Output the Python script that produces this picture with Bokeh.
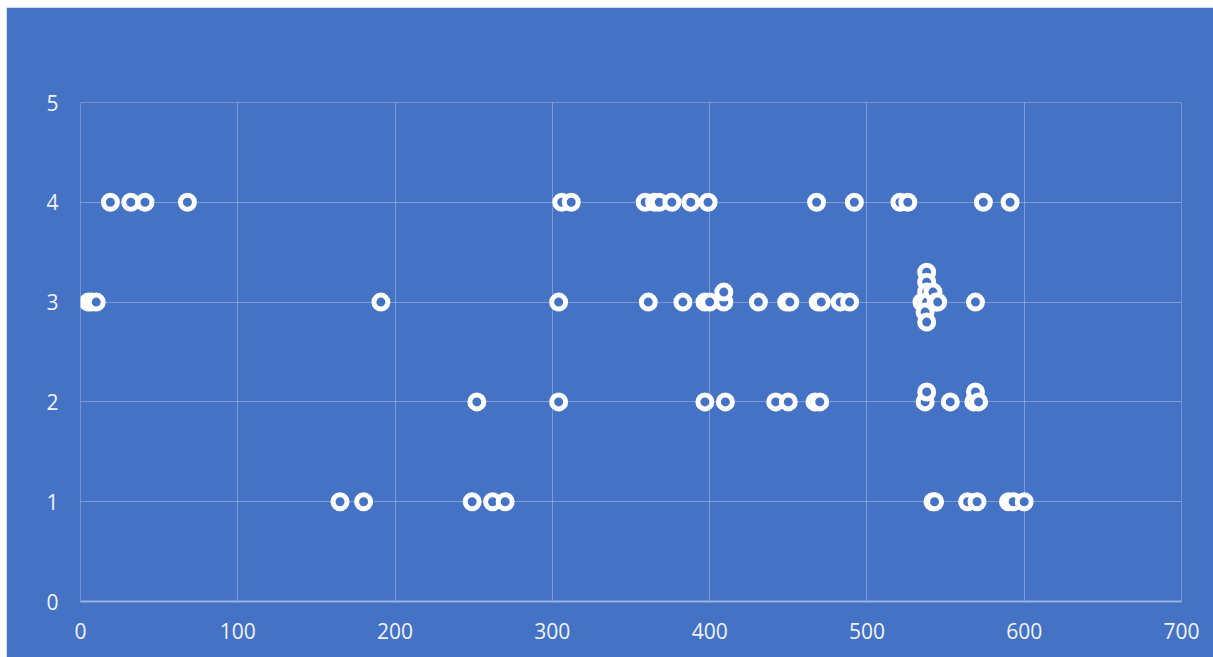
from bokeh.plotting import figure
from bokeh.models import Range1d, FixedTicker, ColumnDataSource, Spacer
from bokeh.layouts import column, row
from bokeh.embed import file_html
from bokeh.resources import INLINE

# Data
x_values = [
    # row 4
    19, 32, 41, 68, 306, 312, 359, 365, 368, 376, 388, 399, 468, 492, 521, 526, 574, 591,
    # row ~3
    5, 7, 10, 191, 304, 361, 383, 397, 400, 409, 409, 431, 449, 451, 469, 471, 483, 489,
    535, 538, 538, 538, 538, 537, 538, 542, 544, 545, 569,
    # row ~2
    252, 304, 397, 410, 442, 450, 467, 470, 537, 538, 553, 568, 569, 571,
    # row 1
    165, 180, 249, 262, 270, 542, 543, 564, 570, 590, 593, 600,
]
y_values = [
    4, 4, 4, 4, 4, 4, 4, 4, 4, 4, 4, 4, 4, 4, 4, 4, 4, 4,
    3, 3, 3, 3, 3, 3, 3, 3, 3, 3, 3.1, 3, 3, 3, 3, 3, 3, 3,
    3, 3.3, 3.2, 3.1, 3, 2.9, 2.8, 3.1, 3, 3, 3,
    2, 2, 2, 2, 2, 2, 2, 2, 2, 2.1, 2, 2, 2.1, 2,
    1, 1, 1, 1, 1, 1, 1, 1, 1, 1, 1, 1,
]
x_ticks = [0, 100, 200, 300, 400, 500, 600, 700]
y_ticks = [0, 1, 2, 3, 4, 5]

BG = "#4472C4"
source = ColumnDataSource(dict(x=x_values, y=y_values))

p = figure(width=1207, height=650, output_backend="svg", toolbar_location=None,
           x_range=Range1d(0, 700), y_range=Range1d(0, 5),
           min_border_left=74, min_border_right=32, min_border_top=95, min_border_bottom=56)
p.background_fill_color = BG
p.border_fill_color = BG
p.outline_line_color = None

p.scatter("x", "y", source=source, size=14, fill_color=BG, line_color="white", line_width=5)

for ax in (p.xaxis[0], p.yaxis[0]):
    ax.major_tick_line_color = None
    ax.minor_tick_line_color = None
    ax.major_tick_out = 0
    ax.major_tick_in = 0
    ax.major_label_text_color = "#f2f2f2"
    ax.major_label_text_font = "Open Sans"
    ax.major_label_text_font_size = "21px"

p.xaxis[0].ticker = FixedTicker(ticks=x_ticks)
p.yaxis[0].ticker = FixedTicker(ticks=y_ticks)
p.yaxis[0].axis_line_color = None
p.xaxis[0].axis_line_color = "#98b1df"
p.xaxis[0].axis_line_width = 2
p.xaxis[0].major_label_standoff = 21
p.yaxis[0].major_label_standoff = 22

for g in (p.xgrid[0], p.ygrid[0]):
    g.grid_line_color = "white"
    g.grid_line_alpha = 0.3
    g.grid_line_width = 1

layout = column(Spacer(height=7), row(Spacer(width=6), p))
open("out.html", "w").write(file_html(layout, INLINE))
